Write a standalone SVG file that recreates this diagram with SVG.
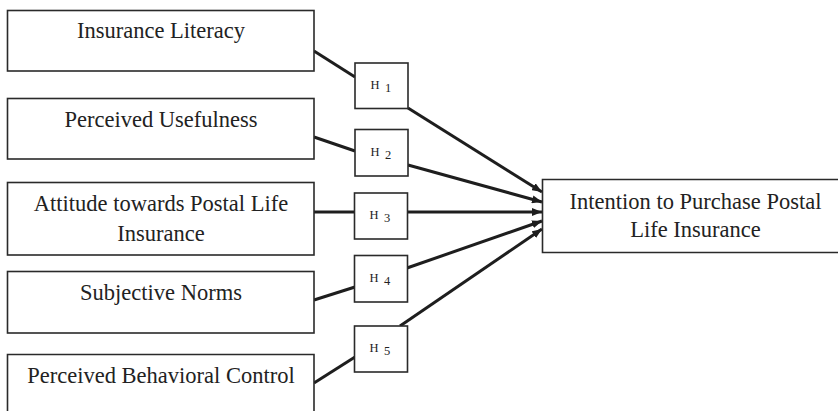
<svg xmlns="http://www.w3.org/2000/svg" width="838" height="411" viewBox="0 0 838 411">
<style>
.box{fill:#fff;stroke:#2a2a2a;stroke-width:1.6}
.lbl{font-family:"Liberation Serif","Times New Roman",serif;font-size:22.5px;fill:#222;text-anchor:middle}
.h{font-family:"Liberation Serif","Times New Roman",serif;fill:#222;font-size:12.5px}
.con{stroke:#1e1e1e;stroke-width:3;fill:none}
</style>
<defs>
<marker id="ah" viewBox="0 0 10 8" refX="10" refY="4" markerWidth="10" markerHeight="8" markerUnits="userSpaceOnUse" orient="auto">
<path d="M0,0 L10,4 L0,8 z" fill="#1e1e1e"/>
</marker>
</defs>
<rect width="838" height="411" fill="#fff"/>
<g id="connectors">
<line class="con" x1="314" y1="51" x2="355" y2="77"/>
<line class="con" x1="408" y1="108" x2="542" y2="192" marker-end="url(#ah)"/>
<line class="con" x1="314" y1="137" x2="355" y2="151"/>
<line class="con" x1="408" y1="165" x2="542" y2="202" marker-end="url(#ah)"/>
<line class="con" x1="314" y1="212" x2="354" y2="212"/>
<line class="con" x1="407" y1="212" x2="542" y2="212" marker-end="url(#ah)"/>
<line class="con" x1="314" y1="300" x2="355" y2="287"/>
<line class="con" x1="407" y1="268" x2="542" y2="221" marker-end="url(#ah)"/>
<line class="con" x1="314" y1="383" x2="355" y2="357"/>
<line class="con" x1="400" y1="326" x2="542" y2="229" marker-end="url(#ah)"/>
</g>
<g id="n1">
<rect class="box" x="7.5" y="10.5" width="306.5" height="60.5"/>
<text class="lbl" x="161" y="38">Insurance Literacy</text>
</g>
<g id="n2">
<rect class="box" x="7.5" y="98.5" width="306.5" height="60.5"/>
<text class="lbl" x="161" y="127">Perceived Usefulness</text>
</g>
<g id="n3">
<rect class="box" x="7.5" y="182.5" width="306.5" height="72.5"/>
<text class="lbl" x="161" y="211">Attitude towards Postal Life</text>
<text class="lbl" x="161" y="241">Insurance</text>
</g>
<g id="n4">
<rect class="box" x="7.5" y="271.5" width="306.5" height="61.5"/>
<text class="lbl" x="161" y="300">Subjective Norms</text>
</g>
<g id="n5">
<path class="box" d="M7.5,412 V354.5 H314 V412"/>
<text class="lbl" x="161" y="383">Perceived Behavioral Control</text>
</g>
<g id="h1">
<rect class="box" x="355" y="63" width="53" height="45.5"/>
<text class="h" x="370.5" y="89">H</text><text class="h" x="385" y="91.5">1</text>
</g>
<g id="h2">
<rect class="box" x="355" y="129.5" width="53" height="46.5"/>
<text class="h" x="370.5" y="156">H</text><text class="h" x="385" y="158.5">2</text>
</g>
<g id="h3">
<rect class="box" x="354.5" y="193" width="53" height="46"/>
<text class="h" x="369.5" y="219">H</text><text class="h" x="384" y="221.5">3</text>
</g>
<g id="h4">
<rect class="box" x="354.5" y="255.5" width="53" height="46.5"/>
<text class="h" x="369.5" y="282">H</text><text class="h" x="384" y="284.5">4</text>
</g>
<g id="h5">
<rect class="box" x="354.5" y="326" width="53" height="46"/>
<text class="h" x="369.5" y="352">H</text><text class="h" x="384" y="354.5">5</text>
</g>
<g id="target">
<path class="box" d="M840,179.5 H542.5 V252.5 H840"/>
<text class="lbl" x="695.5" y="209">Intention to Purchase Postal</text>
<text class="lbl" x="695.5" y="237">Life Insurance</text>
</g>
</svg>
